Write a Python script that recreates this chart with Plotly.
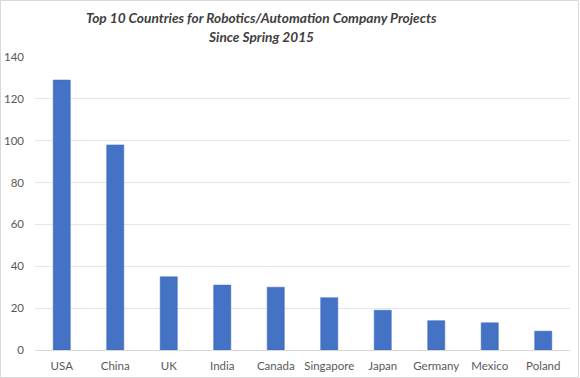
import plotly.graph_objects as go

countries = ["USA", "China", "UK", "India", "Canada", "Singapore", "Japan", "Germany", "Mexico", "Poland"]
projects = [129, 98, 35, 31, 30, 25, 19, 14, 13, 9]
y_ticks = [0, 20, 40, 60, 80, 100, 120, 140]
title_lines = ["Top 10 Countries for Robotics/Automation Company Projects", "Since Spring 2015"]

W, H = 580, 378
ml, mr, mt, mb = 35, 10, 57, 28
pw, ph = W - ml - mr, H - mt - mb

fig = go.Figure(go.Bar(
    x=countries, y=projects,
    marker=dict(color="#4472C4", line=dict(color="#3A66B8", width=0.5)),
    width=0.32,
))

title_x_px = 261
title_y_px = [17.5, 36.5]
annotations = [
    dict(text=f"<b><i>{t}</i></b>", xref="paper", yref="paper",
         x=(title_x_px - ml) / pw, y=1 + (mt - ypx) / ph, xanchor="center", yanchor="middle",
         showarrow=False, font=dict(family="Lato, Open Sans, sans-serif", size=13.7, color="#404040"))
    for t, ypx in zip(title_lines, title_y_px)
]

fig.update_layout(
    width=W, height=H,
    margin=dict(l=ml, r=mr, t=mt, b=mb, autoexpand=False),
    paper_bgcolor="white", plot_bgcolor="white",
    font=dict(family="Lato, Open Sans, sans-serif", color="#595959", size=12),
    xaxis=dict(showgrid=False, showline=True, linecolor="#D9D9D9", linewidth=1, automargin=False,
               ticks="", tickfont=dict(size=11.5, color="#595959"), ticklabelstandoff=5),
    yaxis=dict(range=[0, 140], tickvals=y_ticks, showgrid=True, gridcolor="#E6E6E6", automargin=False,
               gridwidth=1, zeroline=False, showline=False, ticks="",
               tickfont=dict(size=11.5, color="#595959"), ticklabelstandoff=10),
    showlegend=False,
    annotations=annotations,
    shapes=[dict(type="rect", xref="paper", yref="paper",
                 x0=(0.5 - ml) / pw, x1=(W - 1.5 - ml) / pw,
                 y0=-(mb - 0.5) / ph, y1=1 + (mt - 0.5) / ph,
                 line=dict(color="#D9D9D9", width=1), layer="below")],
)

fig.write_html("out.html", config={"displayModeBar": False},
               post_script="document.body.style.margin='0';document.body.style.padding='0';document.body.style.overflow='hidden';")
